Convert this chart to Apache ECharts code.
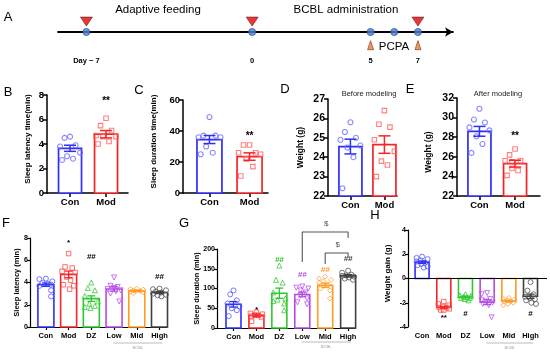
<!DOCTYPE html>
<html><head><meta charset="utf-8">
<script src="https://cdn.jsdelivr.net/npm/echarts@6/dist/echarts.min.js"></script>
<style>html,body{margin:0;padding:0;background:#fff}#c{width:550px;height:354px}</style>
</head><body><div id="c"></div>
<script>
// ================= DATA =================
// Panel A timeline
const timelineDays = [-7, 0, 5, 6, 7];
const timelineMarkDays = [-7, 0, 7];
const pcpaDays = [5, 7];
const timelineTickDays = [-7, 0, 5, 7];
const timelineTickLabels = ['Day \u2212 7', '0', '5', '7'];

// Panels B-E
const twoGroups = ['Con', 'Mod'];
const latencyTicks = [0, 2, 4, 6, 8];
const latencyMean = [3.65, 4.8];
const latencySem = [0.25, 0.3];
const latencyCon = [4.6, 4.5, 3.9, 3.8, 3.3, 3.0, 2.8, 2.7];
const latencyMod = [6.1, 5.5, 5.1, 4.7, 4.6, 4.6, 4.2, 4.0];

const durationTicks = [0, 20, 40, 60];
const durationMean = [34.5, 23.5];
const durationSem = [2.6, 2.4];
const durationCon = [49, 37, 37, 36, 36, 30, 26, 25];
const durationMod = [31, 31, 26, 26, 25, 22, 17, 11];

const beforeTicks = [22, 23, 24, 25, 26, 27];
const beforeMean = [24.55, 24.65];
const beforeSem = [0.38, 0.45];
const beforeCon = [25.8, 25.3, 25.0, 24.9, 24.6, 24.5, 24.0, 22.4];
const beforeMod = [26.4, 25.7, 25.55, 24.9, 24.3, 23.8, 23.6, 23.0];

const afterTicks = [22, 24, 26, 28, 30, 32];
const afterMean = [28.6, 25.3];
const afterSem = [0.5, 0.35];
const afterCon = [30.9, 29.8, 29.5, 29.0, 28.7, 28.1, 27.3, 26.4];
const afterMod = [26.8, 26.2, 25.6, 25.6, 25.5, 24.8, 24.6, 24.1];

// Panels F-H
const sixGroups = ['Con', 'Mod', 'DZ', 'Low', 'Mid', 'High'];

const fTicks = [0, 2, 4, 6, 8];
const fMean = [3.8, 4.73, 2.55, 3.42, 3.25, 3.1];
const fSem = [0.15, 0.3, 0.25, 0.2, 0.06, 0.1];
const fCon = [4.35, 4.3, 4.1, 3.95, 3.9, 3.8, 3.7, 3.3, 2.75];
const fMod = [6.6, 5.4, 5.3, 5.0, 4.9, 4.5, 4.2, 3.8, 3.7, 3.4];
const fDZ = [4.0, 3.5, 3.3, 2.8, 2.3, 2.1, 1.9, 1.8, 1.7];
const fLow = [4.45, 3.7, 3.6, 3.5, 3.4, 3.3, 3.2, 3.0, 2.3];
const fMid = [3.45, 3.4, 3.35, 3.3, 3.25, 3.2, 3.15, 3.1, 3.05];
const fHigh = [3.45, 3.4, 3.3, 3.2, 3.1, 3.0, 2.9, 2.85, 2.75];

const gTicks = [0, 50, 100, 150, 200];
const gMean = [60, 32, 88, 85, 108, 132];
const gSem = [7, 3.5, 13, 6, 5.5, 3];
const gCon = [95, 85, 70, 62, 55, 50, 45, 30];
const gMod = [40, 37, 35, 33, 32, 30, 28, 17];
const gDZ = [158, 122, 115, 90, 75, 72, 68, 62, 45];
const gLow = [105, 102, 100, 95, 90, 82, 75, 65, 60];
const gMid = [130, 125, 122, 118, 115, 110, 100, 95, 75];
const gHigh = [145, 140, 135, 133, 132, 130, 128, 125, 122];

const hTicks = [-4, -2, 0, 2, 4];
const hMean = [1.35, -2.38, -1.52, -1.95, -1.87, -1.47];
const hSem = [0.1, 0.08, 0.07, 0.2, 0.07, 0.18];
const hCon = [1.8, 1.7, 1.6, 1.5, 1.4, 1.3, 1.2, 1.1, 1.0, 0.9];
const hMod = [-1.9, -2.1, -2.2, -2.3, -2.4, -2.4, -2.5, -2.6, -2.6];
const hDZ = [-1.3, -1.4, -1.45, -1.5, -1.55, -1.6, -1.6, -1.7, -1.8];
const hLow = [-1.2, -1.3, -1.7, -1.8, -1.9, -2.0, -2.1, -2.2, -3.2];
const hMid = [-1.6, -1.7, -1.75, -1.8, -1.85, -1.9, -2.0, -2.1, -2.2];
const hHigh = [-0.3, -1.0, -1.3, -1.5, -1.6, -1.7, -1.8, -2.0, -2.1];

// significance marks (text, group index, value level)
const bMarks = [['**', 1, 7.45]];
const cMarks = [['**', 1, 36.8]];
const eMarks = [['**', 1, 28.05]];
const fMarks = [['*', 1, 7.6], ['##', 2, 6.3], ['##', 5, 4.5]];
const gMarks = [['*', 1, 45], ['##', 2, 172], ['##', 3, 134], ['##', 4, 147], ['##', 5, 175]];
const hMarks = [['**', 1, -3.2], ['#', 2, -2.9], ['#', 5, -2.9]];
// G comparison brackets: [fromGroup, toGroup, topLevel, leftFoot, rightFoot]
const gBrackets = [[3, 5, 243, 167, 228], [4, 5, 190, 162, 180]];

// ================= STYLE / BUILD =================
const FONT = "'Liberation Sans', Arial, sans-serif";
const BLUE = '#2f2ff5', RED = '#f52525', GREEN = '#2ec82e', PURPLE = '#b44ae6', ORANGE = '#ff9a22', DARK = '#404040';
const grids = [], xAxes = [], yAxes = [], series = [];
const JITTER = [0, -0.55, 0.55, -1, 1, -0.3, 0.3, -0.8, 0.8, 0.15, -0.15];

function addPanel(c) {
  const gi = grids.length;
  grids.push({left: c.left, top: c.top, width: c.width, height: c.height, containLabel: false, outerBoundsMode: 'none'});
  const yMin = c.yTicks[0], yMax = c.yTicks[c.yTicks.length - 1], yInt = c.yTicks[1] - c.yTicks[0];
  const idx = c.cats.map((_, i) => i);
  xAxes.push({
    gridIndex: gi, type: 'value', min: c.xMin, max: c.xMax, position: 'bottom',
    axisLine: {show: !c.zeroLine, onZero: false, lineStyle: {color: '#000', width: c.lw}},
    axisTick: {show: c.xTick > 0, customValues: idx, length: c.xTick, lineStyle: {color: '#000', width: c.lw}},
    axisLabel: {show: true, customValues: idx, formatter: v => c.cats[Math.round(v)] || '', color: '#000',
      fontFamily: FONT, fontWeight: 'bold', fontSize: c.xFs, margin: c.xMargin},
    splitLine: {show: false}
  });
  yAxes.push({
    gridIndex: gi, type: 'value', min: yMin, max: yMax, interval: yInt,
    axisLine: {show: true, onZero: false, lineStyle: {color: '#000', width: c.lw}},
    axisTick: {show: true, length: c.yTickLen, lineStyle: {color: '#000', width: c.lw}},
    axisLabel: {color: '#000', fontFamily: FONT, fontWeight: 'bold', fontSize: c.yFs, margin: c.yMargin},
    splitLine: {show: false},
    name: c.yName, nameLocation: 'middle', nameGap: c.nameGap, nameMoveOverlap: false,
    nameTextStyle: {color: '#000', fontFamily: FONT, fontWeight: 'bold', fontSize: c.nameFs, padding: c.namePad || 0}
  });
  // bars
  series.push({
    type: 'custom', xAxisIndex: gi, yAxisIndex: gi, silent: true, z: 2, animation: false,
    data: c.means.map((m, i) => [i, m]),
    renderItem: (p, api) => {
      const i = api.value(0), v = api.value(1);
      const base = Math.max(yMin, Math.min(yMax, 0));
      const a = api.coord([i, base]), b = api.coord([i, v]);
      return {type: 'rect', shape: {x: a[0] - c.barW / 2, y: Math.min(a[1], b[1]), width: c.barW, height: Math.abs(a[1] - b[1])},
        style: {fill: '#fff', stroke: c.colors[i], lineWidth: c.barLw}};
    }
  });
  if (c.zeroLine) {
    series.push({type: 'line', xAxisIndex: gi, yAxisIndex: gi, silent: true, z: 3, symbol: 'none', animation: false,
      data: [[c.xMin, 0], [c.xMax, 0]], lineStyle: {color: '#000', width: c.lw}});
  }
  // points: jitter within the bar, avoiding overlaps where possible
  const pxPerY = c.height / (yMax - yMin);
  const unitPx = c.width / (c.xMax - c.xMin);
  const half = c.barW / 2 - 1.5;
  c.points.forEach((arr, i) => {
    const placed = [];
    const data = arr.map((v, n) => {
      const ypx = v * pxPerY;
      let best = 0, bestD = -1;
      for (let k = 0; k < JITTER.length; k++) {
        const cand = JITTER[(k + n) % JITTER.length] * half;
        let dmin = 1e9;
        placed.forEach(q => { dmin = Math.min(dmin, Math.hypot(q[0] - cand, q[1] - ypx)); });
        if (dmin >= c.symSize) { best = cand; bestD = dmin; break; }
        if (dmin > bestD) { bestD = dmin; best = cand; }
      }
      placed.push([best, ypx]);
      return [i + best / unitPx, v];
    });
    const sym = c.symbols[i];
    series.push({type: 'scatter', xAxisIndex: gi, yAxisIndex: gi, silent: true, z: 3, animation: false,
      data, symbol: sym === 'triangleDown' ? 'triangle' : sym, symbolRotate: sym === 'triangleDown' ? 180 : 0,
      symbolSize: sym === 'rect' ? c.symSize - 0.5 : c.symSize,
      itemStyle: {color: 'rgba(255,255,255,0)', borderColor: c.ptColors[i], borderWidth: c.ptLw}});
  });
  // error bars
  series.push({
    type: 'custom', xAxisIndex: gi, yAxisIndex: gi, silent: true, z: 4, animation: false,
    data: c.means.map((m, i) => [i, m - c.sems[i], m + c.sems[i]]),
    renderItem: (p, api) => {
      const i = api.value(0);
      const lo = api.coord([i, api.value(1)]), hi = api.coord([i, api.value(2)]);
      const x = lo[0], hw = c.capW / 2;
      const st = {stroke: c.colors[i], lineWidth: c.errLw};
      return {type: 'group', children: [
        {type: 'line', shape: {x1: x, y1: lo[1], x2: x, y2: hi[1]}, style: st},
        {type: 'line', shape: {x1: x - hw, y1: lo[1], x2: x + hw, y2: lo[1]}, style: st},
        {type: 'line', shape: {x1: x - hw, y1: hi[1], x2: x + hw, y2: hi[1]}, style: st}
      ]};
    }
  });
  if (c.marks) {
    series.push({
      type: 'custom', xAxisIndex: gi, yAxisIndex: gi, silent: true, z: 6, clip: false, animation: false,
      data: c.marks.map(m => [m[1], m[2]]),
      renderItem: (p, api) => {
        const m = c.marks[p.dataIndex];
        const pt = api.coord([api.value(0), api.value(1)]);
        return {type: 'text', x: pt[0], y: pt[1], style: {text: m[0], fill: c.markColor ? c.markColor(m[1]) : '#000',
          fontFamily: FONT, fontWeight: 'bold', fontStyle: c.markItalic ? 'italic' : 'normal', fontSize: c.markFs,
          align: 'center', verticalAlign: 'middle'}};
      }
    });
  }
  if (c.group) {
    series.push({
      type: 'custom', xAxisIndex: gi, yAxisIndex: gi, silent: true, z: 6, clip: false, animation: false,
      data: [[c.group[0], yMin], [c.group[1], yMin]],
      renderItem: (p, api) => {
        if (p.dataIndex !== 0) return null;
        const a = api.coord([c.group[0], yMin]), b = api.coord([c.group[1], yMin]);
        const y = a[1] + c.groupOff;
        return {type: 'group', children: [
          {type: 'line', shape: {x1: a[0], y1: y, x2: b[0], y2: y}, style: {stroke: '#aaa', lineWidth: 0.8}},
          {type: 'text', x: (a[0] + b[0]) / 2, y: y + 4.5, style: {text: 'BCBL', fill: '#999', fontFamily: FONT, fontSize: 4, align: 'center', verticalAlign: 'middle'}}
        ]};
      }
    });
  }
  return gi;
}

const TOP = {lw: 1.5, barLw: 1.7, errLw: 1.5, symSize: 5, ptLw: 1.1, xFs: 9.5, yFs: 9.5, xMargin: 4, yMargin: 3,
  yTickLen: 4, xTick: 4, nameFs: 8, capW: 12, markFs: 10, cats: twoGroups,
  colors: [BLUE, RED], ptColors: ['#6b6bff', '#ff5f5f'], symbols: ['circle', 'rect']};
const BOT = {lw: 1.2, barLw: 1.6, errLw: 1.3, symSize: 5, ptLw: 1.0, xFs: 7.5, yFs: 7, xMargin: 5, yMargin: 2,
  yTickLen: 3, xTick: 3, nameFs: 7.5, capW: 8, markFs: 8, cats: sixGroups,
  colors: [BLUE, RED, GREEN, PURPLE, ORANGE, DARK], ptColors: ['#5555ff', '#ff4a4a', '#35cc35', '#b955ea', '#ffa03a', '#555'],
  symbols: ['circle', 'rect', 'triangle', 'triangleDown', 'diamond', 'circle'], group: [2.97, 5.12], groupOff: 16};

// --- A: timeline ---
grids.push({left: 58, top: 12, width: 395, height: 40, containLabel: false, outerBoundsMode: 'none'});
xAxes.push({gridIndex: 0, type: 'value', min: -8.2, max: 8.48,
  axisLine: {show: true, onZero: true, symbol: ['none', 'arrow'], symbolSize: [7, 8], lineStyle: {color: '#000', width: 1.8}},
  axisTick: {show: false}, axisLabel: {show: false}, splitLine: {show: false}});
yAxes.push({gridIndex: 0, type: 'value', min: -1, max: 1, show: false, splitLine: {show: false}});
series.push({type: 'scatter', xAxisIndex: 0, yAxisIndex: 0, silent: true, z: 4, animation: false,
  data: timelineDays.map(d => [d, 0]), symbol: 'circle', symbolSize: 7,
  itemStyle: {color: '#4f7fcf', borderColor: '#2f5597', borderWidth: 1}});
series.push({type: 'scatter', xAxisIndex: 0, yAxisIndex: 0, silent: true, z: 4, animation: false,
  data: timelineMarkDays.map(d => [d, 0.52]), symbol: 'triangle', symbolRotate: 180, symbolSize: [12, 9],
  itemStyle: {color: '#e80000', borderColor: '#5b3030', borderWidth: 0.8}});
series.push({type: 'scatter', xAxisIndex: 0, yAxisIndex: 0, silent: true, z: 4, animation: false,
  data: pcpaDays.map(d => [d, -0.66]), symbol: 'triangle', symbolSize: [6, 9],
  itemStyle: {color: '#ed7d31', borderColor: '#7a3a10', borderWidth: 0.8}});
series.push({type: 'custom', xAxisIndex: 0, yAxisIndex: 0, silent: true, z: 5, clip: false, animation: false,
  data: timelineTickDays.map(d => [d, -1.45]),
  renderItem: (p, api) => {
    const pt = api.coord([api.value(0), api.value(1)]);
    return {type: 'text', x: pt[0], y: pt[1], style: {text: timelineTickLabels[p.dataIndex], fill: '#000',
      fontFamily: FONT, fontWeight: 'bold', fontSize: 7.5, align: 'center', verticalAlign: 'middle'}};
  }});

// --- B..E ---
addPanel(Object.assign({}, TOP, {left: 47, top: 95, width: 81, height: 98, xMin: -0.64, xMax: 1.61, yTicks: latencyTicks,
  means: latencyMean, sems: latencySem, points: [latencyCon, latencyMod], barW: 23, yName: 'Sleep latency time(min)',
  nameGap: 15, namePad: [0, 0, 0, 10], marks: bMarks}));
addPanel(Object.assign({}, TOP, {left: 183, top: 100, width: 85, height: 93, xMin: -0.66, xMax: 1.46, yTicks: durationTicks,
  means: durationMean, sems: durationSem, points: [durationCon, durationMod], barW: 25, yName: 'Sleep duration time(min)',
  nameGap: 25, namePad: [0, 0, 0, 10], marks: cMarks}));
addPanel(Object.assign({}, TOP, {left: 328, top: 99, width: 69, height: 97, xMin: -0.66, xMax: 1.37, yTicks: beforeTicks,
  means: beforeMean, sems: beforeSem, points: [beforeCon, beforeMod], barW: 23, yName: 'Weight (g)', yFs: 10.5,
  nameGap: 23, nameFs: 8.5}));
addPanel(Object.assign({}, TOP, {left: 457, top: 98, width: 83, height: 98, xMin: -0.63, xMax: 1.7, yTicks: afterTicks,
  means: afterMean, sems: afterSem, points: [afterCon, afterMod], barW: 23, yName: 'Weight (g)', yFs: 10.5,
  nameGap: 24, nameFs: 8.5, namePad: [0, 10, 0, 0], marks: eMarks}));

// --- F..H ---
addPanel(Object.assign({}, BOT, {left: 30, top: 238, width: 137, height: 89, xMin: -0.7, xMax: 5.33, yTicks: fTicks,
  means: fMean, sems: fSem, points: [fCon, fMod, fDZ, fLow, fMid, fHigh], barW: 16, yName: 'Sleep latency (min)',
  nameGap: 9, marks: fMarks}));
const gIndex = addPanel(Object.assign({}, BOT, {left: 217, top: 249, width: 138, height: 79, xMin: -0.72, xMax: 5.3, yTicks: gTicks,
  means: gMean, sems: gSem, points: [gCon, gMod, gDZ, gLow, gMid, gHigh], barW: 15, yName: 'Sleep duration (min)',
  nameGap: 16, marks: gMarks, markItalic: true, markColor: i => (i === 1 ? '#000' : BOT.colors[i]), groupOff: 14}));
addPanel(Object.assign({}, BOT, {left: 408, top: 230, width: 139, height: 97, xMin: -0.65, xMax: 5.76, yTicks: hTicks,
  means: hMean, sems: hSem, points: [hCon, hMod, hDZ, hLow, hMid, hHigh], barW: 14, yName: 'Weight gain (g)',
  nameGap: 16, namePad: [0, 0, 0, 10], marks: hMarks, zeroLine: true, xTick: 0, nameFs: 8}));

// G brackets and $ marks
gBrackets.forEach(b => {
  series.push({type: 'line', xAxisIndex: gIndex, yAxisIndex: gIndex, silent: true, z: 5, clip: false, symbol: 'none', animation: false,
    data: [[b[0], b[3]], [b[0], b[2]], [b[1], b[2]], [b[1], b[4]]], lineStyle: {color: '#555', width: 1.1}});
});
series.push({type: 'custom', xAxisIndex: gIndex, yAxisIndex: gIndex, silent: true, z: 6, clip: false, animation: false,
  data: gBrackets.map(b => [(b[0] + b[1]) / 2, b[2]]),
  renderItem: (p, api) => {
    const pt = api.coord([api.value(0), api.value(1)]);
    return {type: 'text', x: pt[0] + 1, y: pt[1] - 8, style: {text: '$', fill: '#555', fontFamily: FONT, fontSize: 8,
      align: 'center', verticalAlign: 'middle'}};
  }});

const txt = (t, x, y, fs, extra) => Object.assign({type: 'text', x, y, silent: true,
  style: Object.assign({text: t, fill: '#000', fontFamily: FONT, fontSize: fs, align: 'center', verticalAlign: 'middle'}, extra || {})});
const graphic = [
  txt('A', 8, 17, 13), txt('B', 8, 92, 13), txt('C', 139, 90, 13), txt('D', 285, 89, 13), txt('E', 410, 89, 13),
  txt('F', 6, 223, 13), txt('G', 184, 223, 13), txt('H', 375, 215, 13),
  txt('Adaptive feeding', 158, 10, 11.5), txt('BCBL administration', 346, 10, 11.5), txt('PCPA', 394, 47, 11.5),
  txt('Before modeling', 369, 94, 7.5, {fill: '#222'}), txt('After modeling', 498, 94, 7.5, {fill: '#222'})
];

const chart = echarts.init(document.getElementById('c'), null, {renderer: 'canvas'});
chart.setOption({animation: false, backgroundColor: '#fff', grid: grids, xAxis: xAxes, yAxis: yAxes, series, graphic});
</script></body></html>
